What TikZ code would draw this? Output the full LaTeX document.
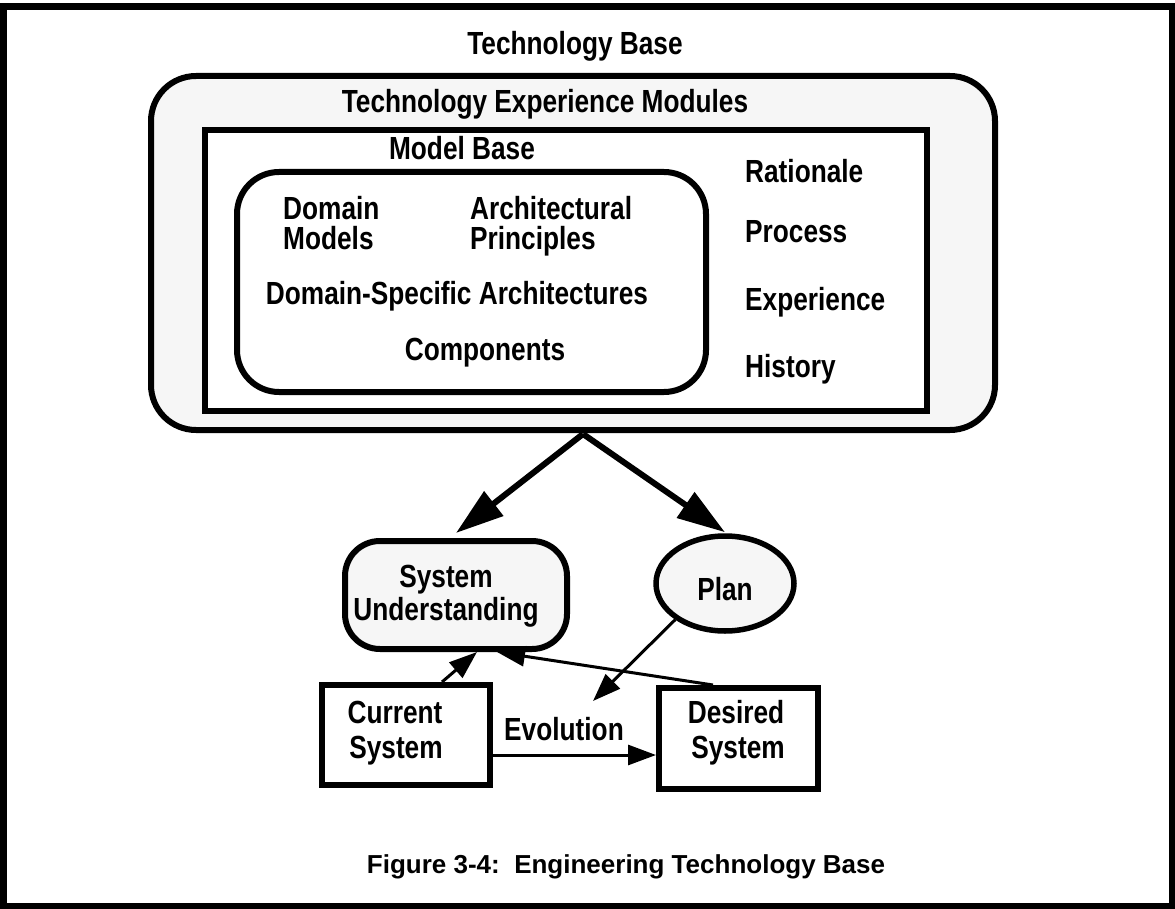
\documentclass[tikz,border=0pt]{standalone}
\usepackage{fontspec}
\newfontfamily\nf{Liberation Sans Bold}[FakeStretch=0.82]
\newfontfamily\cf{Liberation Sans Bold}
\usetikzlibrary{arrows.meta,shapes.geometric}
\definecolor{lightfill}{gray}{0.965}
\begin{document}
\begin{tikzpicture}[x=1pt,y=-1pt,
  lbl/.style={font=\nf\fontsize{32}{33}\selectfont, inner sep=0pt},
  box/.style={draw, line width=6pt, inner sep=0pt},
  bigarrow/.style={line width=6pt, -{Triangle[length=48pt,width=30pt]}},
  thinarrow/.style={line width=3pt, -{Triangle[length=28pt,width=20pt]}}]
\useasboundingbox (0,0) rectangle (1175,909);
\node[box, line width=7pt, minimum width=1169pt, minimum height=900pt] (frame) at (587.5,456.5) {};
% containers
\node[box, rounded corners=45pt, fill=lightfill, minimum width=844pt, minimum height=354pt] (tem) at (573,253) {};
\node[box, fill=white, minimum width=722pt, minimum height=281pt] (inner) at (566,270.5) {};
\node[box, rounded corners=42pt, fill=white, minimum width=469pt, minimum height=220pt] (mb) at (471.5,282) {};
% top texts
\node[lbl, anchor=base] (tbt) at (575,55) {Technology Base};
\node[lbl, anchor=base] (temt) at (545,113) {Technology Experience Modules};
\node[lbl, anchor=base] (mbt) at (462,160) {Model Base};
\node[lbl, anchor=base west] (dm1) at (283,220) {Domain};
\node[lbl, anchor=base west] (dm2) at (283,250) {Models};
\node[lbl, anchor=base west] (ap1) at (470,220) {Architectural};
\node[lbl, anchor=base west] (ap2) at (470,250) {Principles};
\node[lbl, anchor=base] (dsa) at (457,305) {Domain-Specific Architectures};
\node[lbl, anchor=base] (comp) at (485,360) {Components};
\node[lbl, anchor=base west] (rat) at (745,183) {Rationale};
\node[lbl, anchor=base west] (proc) at (745,243) {Process};
\node[lbl, anchor=base west] (exp) at (745,311) {Experience};
\node[lbl, anchor=base west] (hist) at (745,377) {History};
% lower nodes
\node[box, rounded corners=35pt, fill=lightfill, minimum width=222pt, minimum height=108pt] (su) at (456,595) {};
\node[lbl, anchor=base] (su1) at (446,587) {System};
\node[lbl, anchor=base] (su2) at (446,620) {Understanding};
\node[box, ellipse, fill=lightfill, line width=5.5pt, minimum width=138pt, minimum height=95pt] (plan) at (725,583.5) {};
\node[lbl, anchor=base] (plant) at (725,600) {Plan};
\node[box, fill=white, minimum width=168pt, minimum height=100pt] (cur) at (406,735) {};
\node[lbl, anchor=base] (cur1) at (395,723) {Current};
\node[lbl, anchor=base] (cur2) at (396,758) {System};
\node[box, fill=white, minimum width=159pt, minimum height=101pt] (des) at (738.5,738.5) {};
\node[lbl, anchor=base] (des1) at (736,723) {Desired};
\node[lbl, anchor=base] (des2) at (738,758) {System};
\node[lbl, anchor=base] (evo) at (564,740) {Evolution};
% caption
\node[font=\cf\fontsize{26}{30}\selectfont, inner sep=0pt, anchor=base] (cap) at (626,873) {Figure 3-4:\ \ Engineering Technology Base};
% connectors
\coordinate (apex) at (583,434);
\coordinate (evoend) at (593,701);
\draw[bigarrow] (apex) -- ([yshift=5pt]su.north);
\draw[bigarrow] (apex) -- ([yshift=1pt]plan.north);
\draw[thinarrow] ([xshift=36pt]cur.north) -- ([xshift=21pt]su.south);
\draw[thinarrow] ([xshift=-25.5pt]des.north) -- ([xshift=41pt]su.south);
\draw[thinarrow] (plan.216) -- (evoend);
\draw[thinarrow] ([yshift=-20pt]cur.east) -- ([yshift=-20pt]cur.east -| des.west);
\end{tikzpicture}
\end{document}
